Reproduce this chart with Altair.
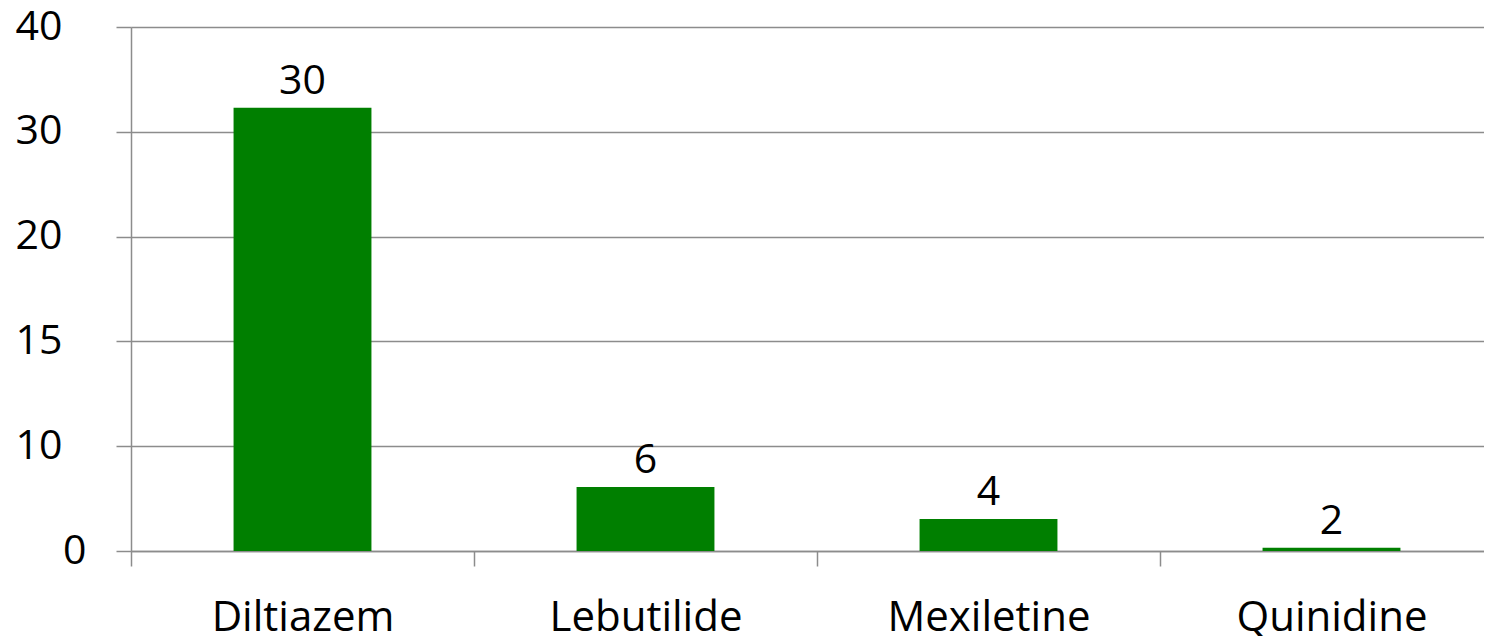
import altair as alt
import pandas as pd

drugs = ["Diltiazem", "Lebutilide", "Mexiletine", "Quinidine"]
bar_heights = [32.3, 6.1, 3.05, 0.3]      # bar tops as read against the axis
bar_labels = [30, 6, 4, 2]                # printed data labels
y_ticks = [0, 10, 15, 20, 30, 40]

H = 524
STEP = 343
df = pd.DataFrame({"drug": drugs, "value": bar_heights, "label": bar_labels})

FONT = "Open Sans"
GRAY = "#8c8c8c"
n = len(y_ticks) - 1
y_range = [H - H * i / n for i in range(len(y_ticks))]

x = alt.X("drug:N", sort=drugs, title=None,
          scale=alt.Scale(paddingInner=0, paddingOuter=0, range=[0, STEP * len(drugs)]),
          axis=alt.Axis(labelAngle=0, labelFont=FONT, labelFontSize=42, labelColor="black",
                        labelPadding=31, labelLimit=0, tickBand="extent", tickSize=15, tickColor=GRAY,
                        tickWidth=1.5, domainColor=GRAY, domainWidth=1.5, grid=False))
y = alt.Y("value:Q", title=None,
          scale=alt.Scale(domain=y_ticks, range=y_range, nice=False, zero=True),
          axis=alt.Axis(values=y_ticks, labelFont=FONT, labelFontSize=41, labelColor="black",
                        labelPadding={"condition": {"test": "datum.value == 0", "value": 30}, "value": 54},
                        labelBaseline="middle",
                        tickSize=15, tickColor=GRAY, tickWidth=1.5, domainColor=GRAY, domainWidth=1.5,
                        grid=True, gridColor=GRAY, gridWidth=1.5))

bars = alt.Chart(df).mark_bar(color="#007f00", width=alt.RelativeBandSize(0.402)).encode(x=x, y=y)
text = alt.Chart(df).mark_text(font=FONT, fontSize=41, color="black", baseline="alphabetic", dy=-14).encode(
    x=alt.X("drug:N", sort=drugs), y=alt.Y("value:Q"), text=alt.Text("label:Q"))

chart = (bars + text).properties(
    width=1353, height=H,
    autosize=alt.AutoSizeParams(type="none"),
    padding={"left": 123, "top": 19, "right": 0, "bottom": 85},
).configure_view(stroke=None).configure(background="white")

chart.save("out.html", embed_options={"renderer": "svg", "actions": False})
